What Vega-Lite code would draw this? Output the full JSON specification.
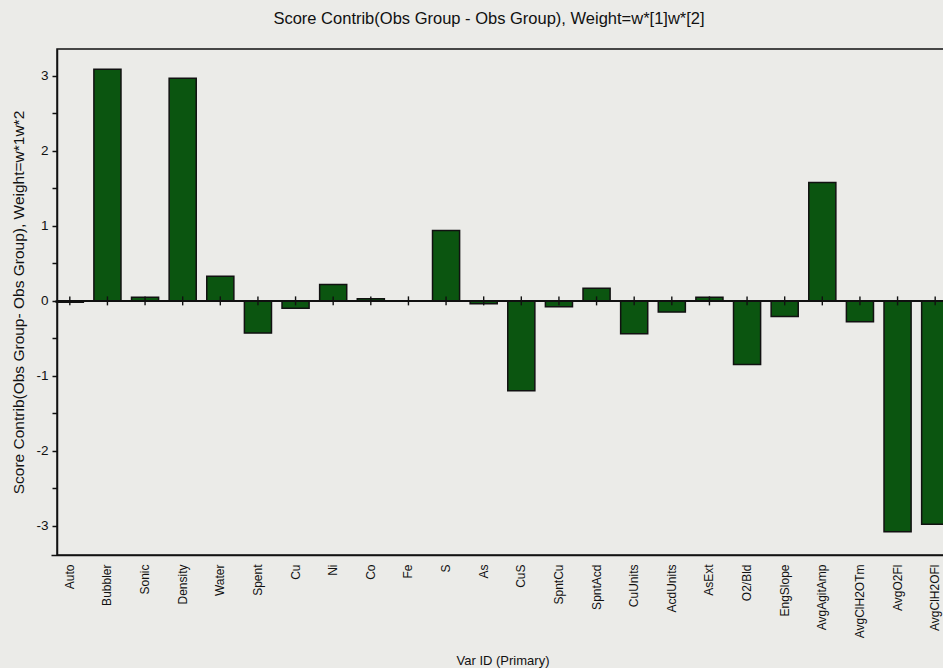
{
  "$schema": "https://vega.github.io/schema/vega-lite/v6.json",
  "autosize": "none",
  "width": 888,
  "height": 506,
  "padding": {"left": 57, "top": 49, "right": 0, "bottom": 113},
  "background": "#ebebe8",
  "title": {
    "text": "Score Contrib(Obs Group - Obs Group), Weight=w*[1]w*[2]",
    "fontSize": 16.5,
    "fontWeight": "normal",
    "font": "Liberation Sans",
    "color": "#111111",
    "anchor": "middle",
    "dx": -12,
    "offset": 22
  },
  "config": {
    "view": {"stroke": "#111111", "strokeWidth": 1.5},
    "axis": {
      "labelFont": "Liberation Sans",
      "titleFont": "Liberation Sans",
      "labelColor": "#111111",
      "titleColor": "#111111",
      "domainColor": "#111111",
      "tickColor": "#111111",
      "domainWidth": 1.5,
      "grid": false
    }
  },
  "data": {
    "values": [
      {"var": "Auto", "contrib": -0.02},
      {"var": "Bubbler", "contrib": 3.09},
      {"var": "Sonic", "contrib": 0.05},
      {"var": "Density", "contrib": 2.97},
      {"var": "Water", "contrib": 0.33},
      {"var": "Spent", "contrib": -0.43},
      {"var": "Cu", "contrib": -0.1},
      {"var": "Ni", "contrib": 0.22},
      {"var": "Co", "contrib": 0.03},
      {"var": "Fe", "contrib": 0.0},
      {"var": "S", "contrib": 0.94},
      {"var": "As", "contrib": -0.04},
      {"var": "CuS", "contrib": -1.2},
      {"var": "SpntCu", "contrib": -0.08},
      {"var": "SpntAcd", "contrib": 0.17},
      {"var": "CuUnits", "contrib": -0.44},
      {"var": "AcdUnits", "contrib": -0.15},
      {"var": "AsExt", "contrib": 0.05},
      {"var": "O2/Bld", "contrib": -0.85},
      {"var": "EngSlope", "contrib": -0.21},
      {"var": "AvgAgitAmp", "contrib": 1.58},
      {"var": "AvgClH2OTm", "contrib": -0.28},
      {"var": "AvgO2Fl", "contrib": -3.08},
      {"var": "AvgClH2OFl", "contrib": -2.98}
    ]
  },
  "encoding": {
    "x": {
      "field": "var",
      "type": "nominal",
      "sort": null,
      "scale": {"range": [-6, 897], "paddingInner": 0.28, "paddingOuter": 0.14},
      "axis": {
        "title": "Var ID (Primary)",
        "titleFontSize": 13,
        "titleFontWeight": "normal",
        "titleY": 105,
        "titleBaseline": "middle",
        "labelAngle": 270,
        "labelFontSize": 12,
        "labelPadding": 9,
        "ticks": false
      }
    }
  },
  "layer": [
    {
      "mark": {"type": "bar", "color": "#0b5510", "stroke": "#111111", "strokeWidth": 1.5},
      "encoding": {
        "y": {
          "field": "contrib",
          "type": "quantitative",
          "scale": {"domain": [-3.39, 3.36], "nice": false, "zero": true},
          "axis": {
            "title": "Score Contrib(Obs Group- Obs Group), Weight=w*1w*2",
            "titleFontSize": 15.5,
            "titleFontWeight": "normal",
            "titlePadding": 9,
            "values": [-3, -2.5, -2, -1.5, -1, -0.5, 0, 0.5, 1, 1.5, 2, 2.5, 3],
            "labelExpr": "datum.value % 1 === 0 ? '' + datum.value : ''",
            "labelFontSize": 13.5,
            "labelPadding": 4,
            "tickSize": 5,
            "tickWidth": 1.5
          }
        }
      }
    },
    {
      "mark": {"type": "rule", "color": "#111111", "strokeWidth": 1.4},
      "encoding": {"x": null, "y": {"datum": 0}}
    },
    {
      "mark": {"type": "rule", "color": "#111111", "strokeWidth": 1.4},
      "encoding": {"y": {"datum": -0.06}, "y2": {"datum": 0.06}}
    }
  ]
}
